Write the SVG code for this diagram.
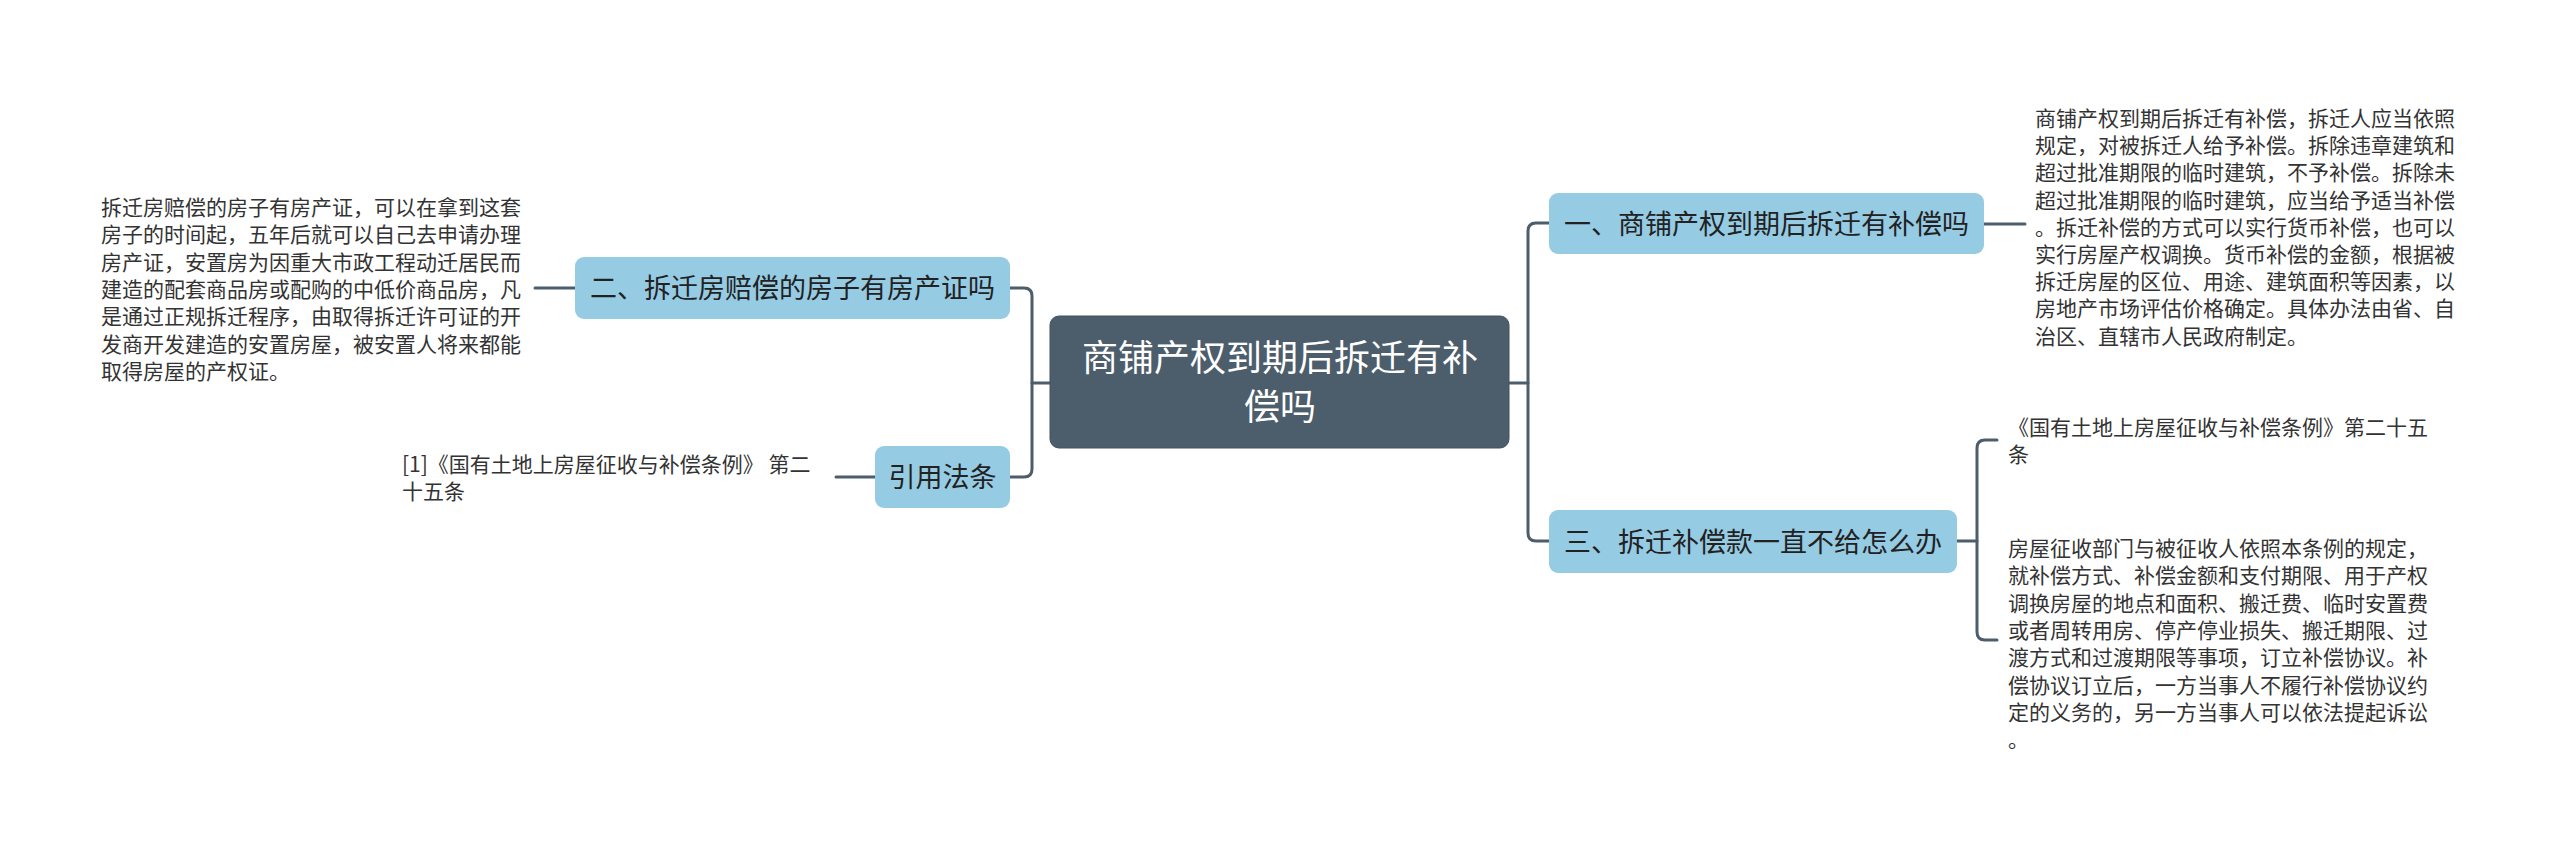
<svg xmlns="http://www.w3.org/2000/svg" width="2560" height="853" viewBox="0 0 2560 853">
<style>
.bg{fill:#ffffff}
.root{fill:#4c5d6c;stroke:#43525f;stroke-width:1}
.sub{fill:#96cbe4}
.rt{font-family:"Noto Sans CJK SC","Liberation Sans",sans-serif;font-size:36px;fill:#ffffff;text-anchor:middle}
.st{font-family:"Noto Sans CJK SC","Liberation Sans",sans-serif;font-size:27px;fill:#222222;text-anchor:middle}
.pt{font-family:"Noto Sans CJK SC","Liberation Sans",sans-serif;font-size:21px;fill:#333333}
.ln{fill:none;stroke:#4c5d6c;stroke-width:3;stroke-linecap:round;stroke-linejoin:round}
</style>
<rect class="bg" x="0" y="0" width="2560" height="853"/>
<g id="connectors">
<path class="ln" d="M1050,383 H1032"/>
<path class="ln" d="M1010,288 H1024 Q1032,288 1032,296 V469 Q1032,477 1024,477 H1010"/>
<path class="ln" d="M1510,383 H1528"/>
<path class="ln" d="M1549,223 H1536 Q1528,223 1528,231 V533 Q1528,541 1536,541 H1549"/>
<path class="ln" d="M1984,224 H2025"/>
<path class="ln" d="M575,288 H535"/>
<path class="ln" d="M875,477 H836"/>
<path class="ln" d="M1957,541 H1977"/>
<path class="ln" d="M1997,440 H1985 Q1977,440 1977,448 V632 Q1977,640 1985,640 H1997"/>
</g>
<g id="root">
<rect class="root" x="1050" y="316" width="459" height="132" rx="9"/>
<text class="rt" x="1280" y="371">商铺产权到期后拆迁有补</text>
<text class="rt" x="1280" y="420">偿吗</text>
</g>
<g id="node-2">
<rect class="sub" x="575" y="257" width="435" height="62" rx="9"/>
<text class="st" x="792.5" y="298">二、拆迁房赔偿的房子有房产证吗</text>
</g>
<g id="node-2-text">
<text class="pt" x="101" y="215">拆迁房赔偿的房子有房产证，可以在拿到这套</text>
<text class="pt" x="101" y="242">房子的时间起，五年后就可以自己去申请办理</text>
<text class="pt" x="101" y="270">房产证，安置房为因重大市政工程动迁居民而</text>
<text class="pt" x="101" y="297">建造的配套商品房或配购的中低价商品房，凡</text>
<text class="pt" x="101" y="324">是通过正规拆迁程序，由取得拆迁许可证的开</text>
<text class="pt" x="101" y="352">发商开发建造的安置房屋，被安置人将来都能</text>
<text class="pt" x="101" y="379">取得房屋的产权证。</text>
</g>
<g id="node-ref">
<rect class="sub" x="875" y="446" width="135" height="62" rx="9"/>
<text class="st" x="942.5" y="487">引用法条</text>
</g>
<g id="node-ref-text">
<text class="pt" x="402" y="472">[1]《国有土地上房屋征收与补偿条例》 第二</text>
<text class="pt" x="402" y="499">十五条</text>
</g>
<g id="node-1">
<rect class="sub" x="1549" y="193" width="435" height="61" rx="9"/>
<text class="st" x="1766.5" y="234">一、商铺产权到期后拆迁有补偿吗</text>
</g>
<g id="node-1-text">
<text class="pt" x="2035" y="126">商铺产权到期后拆迁有补偿，拆迁人应当依照</text>
<text class="pt" x="2035" y="153">规定，对被拆迁人给予补偿。拆除违章建筑和</text>
<text class="pt" x="2035" y="180">超过批准期限的临时建筑，不予补偿。拆除未</text>
<text class="pt" x="2035" y="208">超过批准期限的临时建筑，应当给予适当补偿</text>
<text class="pt" x="2035" y="235">。拆迁补偿的方式可以实行货币补偿，也可以</text>
<text class="pt" x="2035" y="262">实行房屋产权调换。货币补偿的金额，根据被</text>
<text class="pt" x="2035" y="289">拆迁房屋的区位、用途、建筑面积等因素，以</text>
<text class="pt" x="2035" y="316">房地产市场评估价格确定。具体办法由省、自</text>
<text class="pt" x="2035" y="344">治区、直辖市人民政府制定。</text>
</g>
<g id="node-3">
<rect class="sub" x="1549" y="510" width="408" height="63" rx="9"/>
<text class="st" x="1753" y="552">三、拆迁补偿款一直不给怎么办</text>
</g>
<g id="node-3-text-a">
<text class="pt" x="2008" y="435">《国有土地上房屋征收与补偿条例》第二十五</text>
<text class="pt" x="2008" y="462">条</text>
</g>
<g id="node-3-text-b">
<text class="pt" x="2008" y="556">房屋征收部门与被征收人依照本条例的规定，</text>
<text class="pt" x="2008" y="583">就补偿方式、补偿金额和支付期限、用于产权</text>
<text class="pt" x="2008" y="611">调换房屋的地点和面积、搬迁费、临时安置费</text>
<text class="pt" x="2008" y="638">或者周转用房、停产停业损失、搬迁期限、过</text>
<text class="pt" x="2008" y="665">渡方式和过渡期限等事项，订立补偿协议。补</text>
<text class="pt" x="2008" y="693">偿协议订立后，一方当事人不履行补偿协议约</text>
<text class="pt" x="2008" y="720">定的义务的，另一方当事人可以依法提起诉讼</text>
<text class="pt" x="2008" y="747">。</text>
</g>
</svg>
